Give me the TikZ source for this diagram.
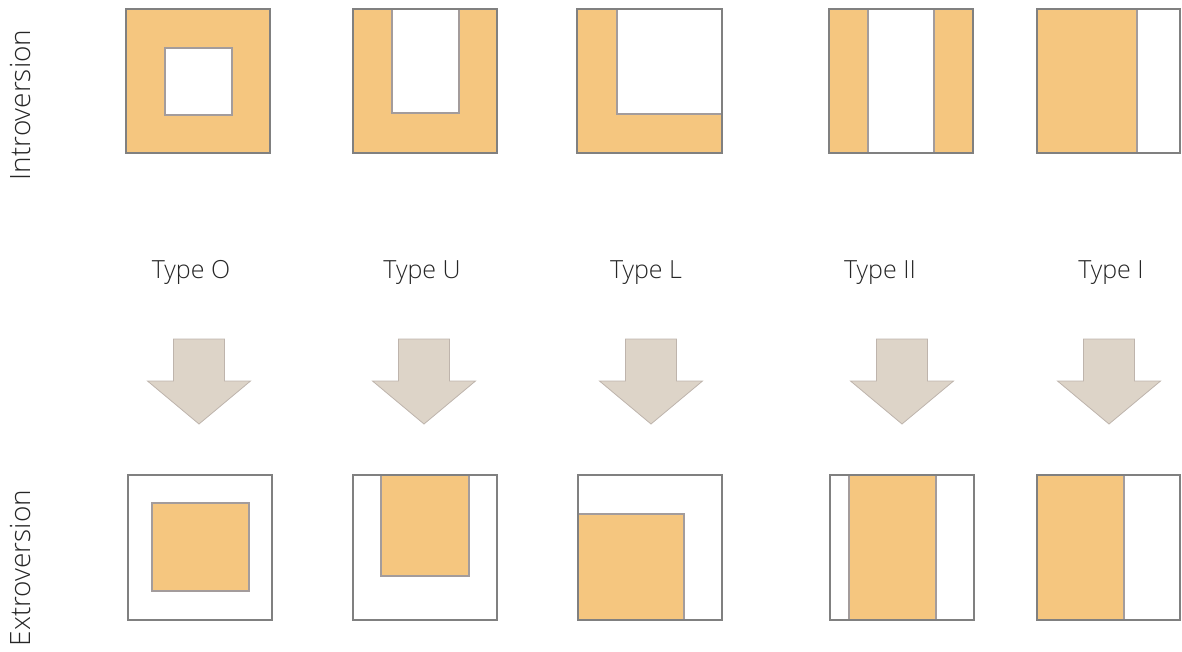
\documentclass[tikz,border=0pt]{standalone}
\usepackage{fontspec}
\setmainfont{Open Sans}[UprightFont={* Light}]
\usepackage{tikz}
\usetikzlibrary{positioning}
\definecolor{Tipoorange}{RGB}{245,198,127}
\definecolor{Tipoframe}{RGB}{128,128,128}
\definecolor{Tipoline}{RGB}{163,156,156}
\definecolor{Tipoarrow}{RGB}{221,212,200}
\definecolor{Tipoarrowline}{RGB}{190,180,172}

\begin{document}
\begin{tikzpicture}[x=1pt, y=-1pt,
    frame/.style={draw=Tipoframe, line width=1.6pt},
    fillo/.style={fill=Tipoorange},
    holew/.style={fill=white, draw=Tipoline, line width=1.4pt},
    blocko/.style={fill=Tipoorange, draw=Tipoline, line width=1.4pt},
    darrow/.style={fill=Tipoarrow, draw=Tipoarrowline, line width=0.8pt},
    tlab/.style={anchor=base, inner sep=0pt, text=black!85,
                 font=\fontsize{25}{30}\selectfont},
    vlab/.style={anchor=base, inner sep=0pt, rotate=90, text=black!85,
                 font=\fontsize{28}{32}\selectfont}]

  \useasboundingbox (0,0) rectangle (1182,651);

  %--- Fila superior: Introversion ---
  % Type O
  \fill[fillo]  (126,9) rectangle (270,153);
  \draw[holew]  (165,48) rectangle (232,115);
  \draw[frame]  (126,9) rectangle (270,153);
  % Type U
  \fill[fillo]  (353,9) rectangle (497,153);
  \draw[holew]  (392,9) rectangle (459,113);
  \draw[frame]  (353,9) rectangle (497,153);
  % Type L
  \fill[fillo]  (577,9) rectangle (722,153);
  \draw[holew]  (617,9) rectangle (722,114);
  \draw[frame]  (577,9) rectangle (722,153);
  % Type II
  \fill[fillo]  (829,9) rectangle (973,153);
  \draw[holew]  (868,9) rectangle (934,153);
  \draw[frame]  (829,9) rectangle (973,153);
  % Type I
  \fill[fillo]  (1037,9) rectangle (1180,153);
  \draw[holew]  (1137,9) rectangle (1180,153);
  \draw[frame]  (1037,9) rectangle (1180,153);

  %--- Etiquetas de tipo ---
  \node[tlab] (typO)  at (191,278)  {Type O};
  \node[tlab] (typU)  at (422,278)  {Type U};
  \node[tlab] (typL)  at (646,278)  {Type L};
  \node[tlab] (typII) at (880,278)  {Type II};
  \node[tlab] (typI)  at (1111,278) {Type I};

  %--- Flechas ---
  \foreach \cx in {199,424,651,902,1109}
    \draw[darrow] (\cx-25.5,339) -- (\cx+25.5,339) -- (\cx+25.5,381)
      -- (\cx+51.5,381) -- (\cx,424) -- (\cx-51.5,381)
      -- (\cx-25.5,381) -- cycle;

  %--- Fila inferior: Extroversion ---
  % Type O
  \fill[white]  (128,475) rectangle (272,620);
  \draw[blocko] (152,503) rectangle (249,591);
  \draw[frame]  (128,475) rectangle (272,620);
  % Type U
  \fill[white]  (353,475) rectangle (497,620);
  \draw[blocko] (381,475) rectangle (469,576);
  \draw[frame]  (353,475) rectangle (497,620);
  % Type L
  \fill[white]  (578,475) rectangle (722,620);
  \draw[blocko] (578,514) rectangle (684,620);
  \draw[frame]  (578,475) rectangle (722,620);
  % Type II
  \fill[white]  (830,475) rectangle (974,620);
  \draw[blocko] (849,475) rectangle (936,620);
  \draw[frame]  (830,475) rectangle (974,620);
  % Type I
  \fill[white]  (1037,475) rectangle (1180,620);
  \draw[blocko] (1037,475) rectangle (1124,620);
  \draw[frame]  (1037,475) rectangle (1180,620);

  %--- Etiquetas laterales ---
  \node[vlab] (intro) at (30,105) {Introversion};
  \node[vlab] (extro) at (30,568) {Extroversion};
\end{tikzpicture}
\end{document}
